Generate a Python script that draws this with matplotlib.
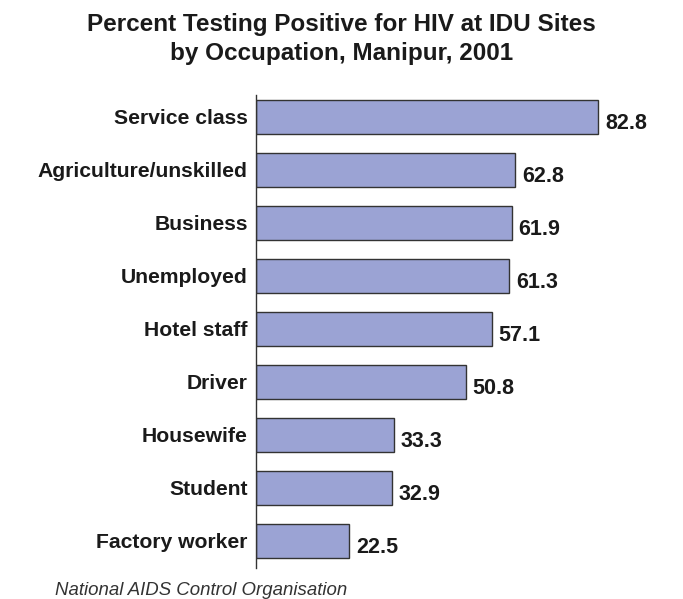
import numpy as np
import matplotlib.pyplot as plt

plt.rcParams['font.family'] = ['Liberation Sans', 'DejaVu Sans']

# Data
occupations = ['Service class', 'Agriculture/unskilled', 'Business', 'Unemployed',
               'Hotel staff', 'Driver', 'Housewife', 'Student', 'Factory worker']
percent_positive = [82.8, 62.8, 61.9, 61.3, 57.1, 50.8, 33.3, 32.9, 22.5]

fig = plt.figure(figsize=(6.83, 5.99), dpi=100)
ax = fig.add_axes([0.3748, 0.0518, 0.6047, 0.7896])

y = np.arange(len(occupations))
ax.barh(y, percent_positive, height=0.64, color='#9ba3d4',
        edgecolor='#333333', linewidth=1.0)

for yi, v in zip(y, percent_positive):
    ax.annotate(f'{v:.1f}', xy=(v, yi + 0.12), xytext=(5, 0),
                textcoords='offset points', va='center', ha='left',
                fontsize=15.5, fontweight='bold', color='#1a1a1a')

ax.set_xlim(0, 100)
ax.set_ylim(8.51, -0.415)
ax.set_yticks(y)
ax.set_yticklabels(occupations, fontsize=15.2, fontweight='bold', color='#1a1a1a')
ax.tick_params(axis='y', length=0, pad=6)
ax.set_xticks([])
for side in ['top', 'right', 'bottom']:
    ax.spines[side].set_visible(False)
ax.spines['left'].set_color('#333333')
ax.spines['left'].set_linewidth(1.0)

fig.text(0.5, 0.978, 'Percent Testing Positive for HIV at IDU Sites\nby Occupation, Manipur, 2001',
         ha='center', va='top', fontsize=17.5, fontweight='bold', color='#1a1a1a',
         linespacing=1.3)
fig.text(0.081, 0.015, 'National AIDS Control Organisation', ha='left', va='center',
         fontsize=13.4, fontstyle='italic', color='#333333')

fig.savefig('out.png', dpi=100)
